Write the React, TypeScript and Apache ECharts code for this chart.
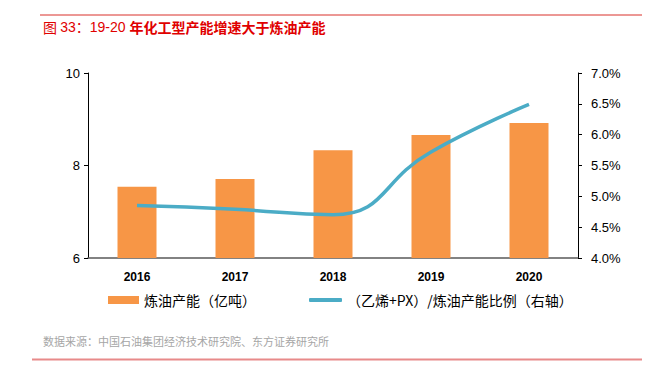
import React, { useEffect, useRef } from "react";
import * as echarts from "echarts";

const years = ["2016", "2017", "2018", "2019", "2020"];
const refiningCapacity = [7.54, 7.71, 8.33, 8.66, 8.92];
const ratioPct = [4.85, 4.79, 4.70, 5.72, 6.49];
const leftTicks = { min: 6, max: 10, interval: 2 };
const rightTicks = { min: 4, max: 7, interval: 0.5 };

const FONT = "'Liberation Sans', Arial, 'Noto Sans CJK SC', sans-serif";
const CJK = "'Noto Sans CJK SC', 'Liberation Sans', sans-serif";

export default function App() {
  const ref = useRef<HTMLDivElement>(null);
  useEffect(() => {
    if (!ref.current) return;
    const chart = echarts.init(ref.current, null, { renderer: "svg" });
    chart.setOption({
      animation: false,
      backgroundColor: "#ffffff",
      grid: { left: 88, right: 72, top: 73, bottom: 117 },
      graphic: [
        { type: "line", shape: { x1: 40, y1: 15, x2: 642, y2: 15 }, style: { stroke: "#D9302B", lineWidth: 1 } },
        {
          type: "text", x: 43, y: 20,
          style: {
            text: "{a|图 }{n|33：19-20 }{b|年化工型产能增速大于炼油产能}",
            rich: {
              a: { fill: "#E00000", font: `14px ${CJK}` },
              n: { fill: "#E00000", font: `14px ${FONT}` },
              b: { fill: "#E00000", font: `bold 14px ${CJK}` },
            },
          },
        },
        { type: "text", x: 43, y: 335, style: { text: "数据来源：中国石油集团经济技术研究院、东方证券研究所", fill: "#A6A6A6", font: `11px ${CJK}` } },
        { type: "line", shape: { x1: 32, y1: 359.5, x2: 645, y2: 359.5 }, style: { stroke: "#E88A8A", lineWidth: 2 } },
      ],
      legend: [
        {
          left: 103, top: 288,
          itemWidth: 31, itemHeight: 8,
          data: [{ name: "炼油产能（亿吨）", icon: "rect" }],
          textStyle: { fontFamily: CJK, fontSize: 14, color: "#000" },
        },
        {
          left: 304, top: 288,
          itemWidth: 33, itemHeight: 4,
          data: [{ name: "（乙烯+PX）/炼油产能比例（右轴）", icon: "roundRect" }],
          textStyle: { fontFamily: CJK, fontSize: 14, color: "#000" },
        },
      ],
      xAxis: {
        type: "category",
        data: years,
        axisLine: { lineStyle: { color: "#595959", width: 1.5 } },
        axisTick: { show: false },
        axisLabel: { fontFamily: FONT, fontWeight: "bold", fontSize: 12, color: "#000", margin: 13 },
      },
      yAxis: [
        {
          type: "value",
          min: leftTicks.min, max: leftTicks.max, interval: leftTicks.interval,
          splitLine: { show: false },
          axisLine: { show: true, lineStyle: { color: "#000" } },
          axisTick: { show: true, length: 4, lineStyle: { color: "#000" } },
          axisLabel: { fontFamily: FONT, fontSize: 13, color: "#000", margin: 8 },
        },
        {
          type: "value",
          min: rightTicks.min, max: rightTicks.max, interval: rightTicks.interval,
          splitLine: { show: false },
          axisLine: { show: true, lineStyle: { color: "#000" } },
          axisTick: { show: true, length: 4, lineStyle: { color: "#000" } },
          axisLabel: { fontFamily: FONT, fontSize: 13, color: "#000", margin: 13, formatter: (v: number) => v.toFixed(1) + "%" },
        },
      ],
      series: [
        {
          name: "炼油产能（亿吨）",
          type: "bar",
          data: refiningCapacity,
          barWidth: 39,
          itemStyle: { color: "#F79646" },
        },
        {
          name: "（乙烯+PX）/炼油产能比例（右轴）",
          type: "line",
          yAxisIndex: 1,
          data: ratioPct,
          smooth: 0.5,
          symbol: "none",
          lineStyle: { color: "#4BACC6", width: 3.5 },
          itemStyle: { color: "#4BACC6" },
        },
      ],
    });
    return () => chart.dispose();
  }, []);
  return <div ref={ref} style={{ width: 650, height: 375, margin: -8 }} />;
}
